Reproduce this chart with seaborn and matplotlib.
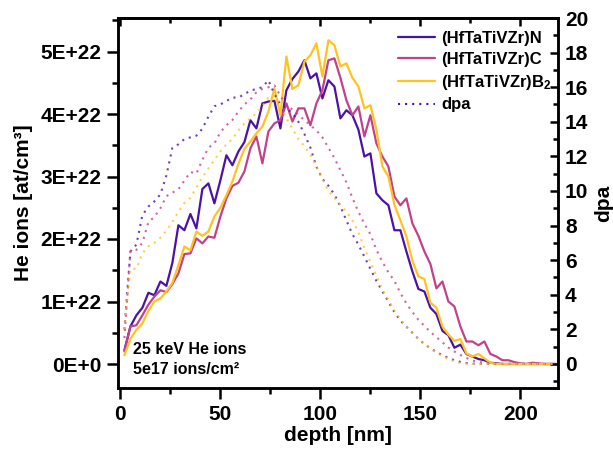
import numpy as np
import pandas as pd
import matplotlib
matplotlib.use("Agg")
import matplotlib.pyplot as plt
import seaborn as sns
from matplotlib.ticker import MultipleLocator, FuncFormatter
from matplotlib.lines import Line2D

# ---------------- data ----------------
depth = [2, 5, 8, 11, 14, 17, 20, 23, 26, 29, 32, 35, 38, 41, 44, 47, 50, 53, 56, 59,
         62, 65, 68, 71, 74, 77, 80, 83, 86, 89, 92, 95, 98, 101, 104, 107, 110, 113, 116, 119,
         122, 125, 128, 131, 134, 137, 140, 143, 146, 149, 152, 155, 158, 161, 164, 167, 170, 173, 176, 179,
         182, 185, 188, 191, 194, 197, 200, 203, 206, 209, 212, 215, 218]

materials = ["(HfTaTiVZr)N", "(HfTaTiVZr)C", "(HfTaTiVZr)B$_\\mathbf{2}$"]

# He concentration in units of 1E+22 at/cm^3
he_N = [0.22, 0.60, 0.78, 0.90, 1.14, 1.10, 1.32, 1.25, 1.62, 2.22, 2.14, 2.40, 2.17, 2.80, 2.89, 2.57, 2.94, 3.34, 3.18, 3.40,
        3.55, 3.90, 3.77, 4.17, 4.20, 4.21, 3.77, 4.38, 4.56, 4.68, 4.86, 4.57, 4.65, 4.25, 4.54, 4.44, 3.93, 4.06, 3.98, 3.75,
        3.32, 3.37, 2.73, 2.62, 2.54, 2.14, 2.14, 1.80, 1.48, 1.20, 1.16, 0.90, 0.80, 0.53, 0.46, 0.26, 0.31, 0.16, 0.12, 0.08,
        0.06, 0.02, 0.01, 0.00, 0.00, 0.00, 0.00, 0.00, 0.00, 0.00, 0.00, 0.00, 0.00]
he_C = [0.20, 0.60, 0.62, 0.78, 0.95, 1.08, 1.18, 1.15, 1.28, 1.45, 1.76, 1.77, 2.01, 1.93, 2.04, 2.02, 2.36, 2.65, 2.85, 2.90,
        3.08, 3.45, 3.64, 3.21, 3.72, 3.85, 3.90, 4.17, 3.88, 4.09, 4.09, 3.82, 4.17, 4.38, 4.86, 4.89, 4.58, 4.22, 3.98, 4.12,
        3.64, 3.98, 3.53, 3.32, 3.16, 2.68, 2.54, 2.65, 2.25, 2.05, 1.80, 1.60, 1.21, 1.32, 1.00, 0.92, 0.60, 0.36, 0.36, 0.30,
        0.36, 0.16, 0.12, 0.06, 0.06, 0.03, 0.01, 0.00, 0.02, 0.01, 0.00, 0.00, 0.00]
he_B2 = [0.14, 0.40, 0.55, 0.65, 0.85, 1.00, 1.05, 1.16, 1.30, 1.58, 1.88, 1.82, 2.12, 2.05, 2.12, 2.36, 2.50, 2.70, 2.92, 3.20,
         3.44, 3.56, 3.69, 3.80, 4.04, 4.41, 3.98, 4.92, 4.40, 4.46, 4.84, 4.94, 5.13, 4.60, 5.18, 5.10, 4.76, 4.81, 4.58, 4.44,
         4.09, 4.14, 3.75, 3.16, 3.00, 2.55, 2.30, 2.04, 1.65, 1.40, 1.36, 0.98, 0.90, 0.60, 0.47, 0.37, 0.40, 0.17, 0.12, 0.16,
         0.09, 0.02, 0.00, 0.00, 0.00, 0.00, 0.00, 0.00, 0.00, 0.00, 0.00, 0.00, 0.00]

# displacement damage (dpa)
dpa_N = [2.0, 6.5, 6.9, 8.6, 9.1, 9.4, 9.8, 10.9, 12.5, 12.7, 13.0, 13.1, 13.2, 13.6, 14.3, 14.9, 15.0, 15.2, 15.4, 15.4,
         15.6, 15.8, 15.9, 16.0, 16.4, 15.6, 15.0, 14.8, 14.5, 14.0, 13.3, 12.5, 11.4, 10.7, 10.3, 9.8, 9.1, 8.3, 7.5, 6.9,
         6.2, 5.5, 4.8, 4.2, 3.6, 3.0, 2.5, 2.15, 1.8, 1.45, 1.15, 0.9, 0.7, 0.5, 0.35, 0.22, 0.12, 0.05, 0.02, 0.0,
         0.0, 0.0, 0.0, 0.0, 0.0, 0.0, 0.0, 0.0, 0.0, 0.0, 0.0, 0.0, 0.0]
dpa_C = [1.5, 6.5, 6.6, 7.0, 8.2, 8.5, 9.0, 9.7, 9.9, 10.1, 10.6, 11.1, 11.0, 11.8, 12.5, 12.75, 13.4, 13.8, 14.1, 14.6,
         15.0, 15.3, 15.7, 15.9, 16.0, 16.1, 15.5, 15.0, 14.7, 14.4, 14.1, 13.8, 13.5, 13.1, 12.5, 11.9, 11.2, 10.5, 9.6, 8.8,
         8.1, 7.5, 6.6, 5.9, 5.3, 4.8, 4.1, 3.5, 3.0, 2.55, 2.2, 1.85, 1.55, 1.25, 0.95, 0.72, 0.52, 0.35, 0.2, 0.12,
         0.06, 0.03, 0.01, 0.0, 0.0, 0.0, 0.0, 0.0, 0.0, 0.0, 0.0, 0.0, 0.0]
dpa_B2 = [2.0, 5.5, 5.5, 6.4, 6.8, 7.0, 7.3, 7.7, 8.2, 8.8, 9.3, 9.6, 10.2, 10.8, 11.3, 11.8, 12.3, 12.7, 13.0, 13.5,
          13.9, 14.2, 14.5, 14.9, 15.4, 15.5, 15.0, 14.2, 13.6, 13.0, 12.6, 12.1, 11.4, 10.7, 10.0, 9.6, 9.2, 8.8, 8.3, 7.6,
          6.7, 5.9, 5.1, 4.3, 3.7, 3.1, 2.6, 2.15, 1.8, 1.45, 1.15, 0.88, 0.65, 0.45, 0.3, 0.15, 0.05, 0.02, 0.0, 0.0,
          0.0, 0.0, 0.0, 0.0, 0.0, 0.0, 0.0, 0.0, 0.0, 0.0, 0.0, 0.0, 0.0]

he_ticks = [0, 1, 2, 3, 4, 5]
dpa_ticks = [0, 2, 4, 6, 8, 10, 12, 14, 16, 18, 20]
depth_ticks = [0, 50, 100, 150, 200]

colors = {materials[0]: "#4b12a6", materials[1]: "#c2418b", materials[2]: "#ffc21f"}

# ---------------- frames ----------------
he_df = pd.concat([
    pd.DataFrame({"depth": depth, "He": np.array(v) * 1e22, "material": m})
    for m, v in zip(materials, [he_N, he_C, he_B2])
])
dpa_df = pd.concat([
    pd.DataFrame({"depth": depth, "dpa": v, "material": m})
    for m, v in zip(materials, [dpa_N, dpa_C, dpa_B2])
])

# ---------------- style ----------------
sns.set_style("ticks")
plt.rcParams["font.family"] = ["Liberation Sans", "DejaVu Sans"]
plt.rcParams["font.weight"] = "bold"
plt.rcParams["axes.labelweight"] = "bold"
plt.rcParams["mathtext.fontset"] = "custom"
plt.rcParams["mathtext.rm"] = "Liberation Sans:bold"
plt.rcParams["mathtext.bf"] = "Liberation Sans:bold"
plt.rcParams["mathtext.it"] = "Liberation Sans:bold"
for k in ["text.color", "axes.labelcolor", "xtick.color", "ytick.color", "axes.edgecolor"]:
    plt.rcParams[k] = "black"

fig = plt.figure(figsize=(6.13, 4.5), dpi=100)
ax = fig.add_axes([118 / 613, 1 - 388 / 450, 440 / 613, 370 / 450])
ax2 = ax.twinx()

sns.lineplot(data=he_df, x="depth", y="He", hue="material", palette=colors,
             ax=ax, legend=False, linewidth=1.6, errorbar=None)
sns.lineplot(data=dpa_df, x="depth", y="dpa", hue="material", palette=colors,
             ax=ax2, legend=False, linewidth=1.5, errorbar=None)
for ln in ax2.get_lines():
    ln.set_linestyle((0, (1, 2.4)))
    ln.set_alpha(0.8)

ax.set_xlim(-1.2, 218.8)
ax.set_ylim(-0.384e22, 5.536e22)
ax2.set_ylim(-1.39, 20)

ax.set_xticks(depth_ticks)
ax.xaxis.set_minor_locator(MultipleLocator(25))
ax.set_yticks([t * 1e22 for t in he_ticks])
ax.yaxis.set_minor_locator(MultipleLocator(0.5e22))
ax.yaxis.set_major_formatter(FuncFormatter(
    lambda v, p: "0E+0" if abs(v) < 1e18 else f"{v / 1e22:.0f}E+22"))
ax2.set_yticks(dpa_ticks)
ax2.yaxis.set_minor_locator(MultipleLocator(1))

for a in (ax, ax2):
    for s in a.spines.values():
        s.set_linewidth(1.8)
        s.set_color("black")
        s.set_visible(True)

ax.tick_params(axis="both", which="major", direction="out", length=8, width=1.8,
               labelsize=15, pad=4, top=False, right=False)
ax.tick_params(axis="both", which="minor", direction="out", length=4.5, width=1.8,
               top=False, right=False)
ax2.tick_params(axis="y", which="major", direction="in", length=6, width=1.8,
                labelsize=15, pad=5)
ax2.tick_params(axis="y", which="minor", direction="in", length=3.5, width=1.8)

# top ticks (inward, no labels)
sec = ax.secondary_xaxis("top")
sec.set_xticks(depth_ticks)
sec.xaxis.set_minor_locator(MultipleLocator(25))
sec.tick_params(axis="x", which="major", direction="in", length=6, width=1.8, labeltop=False)
sec.tick_params(axis="x", which="minor", direction="in", length=3.5, width=1.8)
sec.spines["top"].set_linewidth(1.8)
sec.spines["top"].set_color("black")

for lab in ax.get_xticklabels() + ax.get_yticklabels() + ax2.get_yticklabels():
    lab.set_fontweight("bold")

ax.set_xlabel("depth [nm]", fontsize=15, fontweight="bold", labelpad=2)
ax.set_ylabel("He ions [at/cm³]", fontsize=15, fontweight="bold", labelpad=5)
ax2.set_ylabel("dpa", fontsize=15, fontweight="bold", labelpad=4)

ax.text(0.034, 0.103, "25 keV He ions", transform=ax.transAxes, fontsize=11.5,
        fontweight="bold", va="center", ha="left")
ax.text(0.034, 0.049, "5e17 ions/cm²", transform=ax.transAxes, fontsize=11.5,
        fontweight="bold", va="center", ha="left")

handles = [Line2D([], [], color=colors[m], lw=1.6) for m in materials]
handles.append(Line2D([], [], color=colors[materials[0]], lw=1.5, ls=(0, (1, 2.4))))
labels = materials + ["dpa"]
leg = ax.legend(handles, labels, loc="upper left", bbox_to_anchor=(0.636, 0.965),
                frameon=False, fontsize=12, handlelength=2.2, handletextpad=0.4,
                labelspacing=0.35, borderaxespad=0, borderpad=0)
for t in leg.get_texts():
    t.set_fontweight("bold")

fig.savefig("out.png", dpi=100)
